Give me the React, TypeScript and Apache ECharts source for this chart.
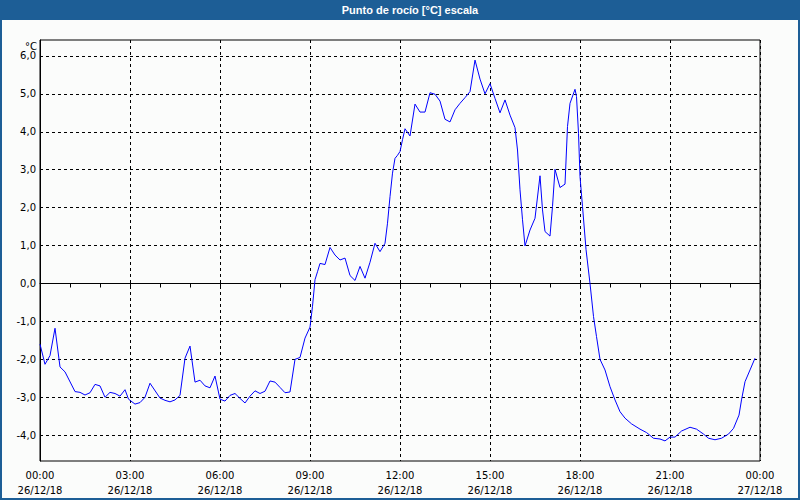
import React, { useEffect, useRef } from "react";
import * as echarts from "echarts";

// minutes after 26/12/18 00:00
const minutes = [
  0, 10, 20, 30, 40, 50, 70, 80, 90, 100, 110, 120, 130, 140, 150, 160, 170, 177, 190, 200,
  210, 220, 240, 250, 260, 270, 280, 290, 300, 310, 320, 330, 340, 350, 360, 370, 380, 390, 400, 410,
  420, 430, 440, 450, 460, 470, 480, 490, 500, 510, 520, 530, 540, 545, 550, 555, 560, 570, 580, 590,
  600, 610, 620, 630, 640, 650, 660, 670, 680, 690, 695, 700, 705, 710, 715, 720, 725, 730, 740, 750,
  760, 770, 780, 790, 800, 810, 820, 830, 840, 850, 860, 870, 880, 890, 900, 910, 920, 930, 940, 950,
  955, 960, 965, 970, 980, 990, 1000, 1005, 1010, 1020, 1025, 1030, 1040, 1050, 1055, 1060, 1070, 1073, 1077, 1080,
  1085, 1092, 1100, 1107, 1113, 1120, 1130, 1140, 1150, 1160, 1170, 1183, 1200, 1213, 1227, 1240, 1250, 1260, 1270, 1283,
  1300, 1313, 1327, 1337, 1350, 1363, 1377, 1387, 1398, 1403, 1410, 1420, 1430,
];

const dewPoint = [
  -1.6, -2.13, -1.9, -1.18, -2.2, -2.33, -2.85, -2.87, -2.94, -2.88, -2.66, -2.7, -3.0, -2.87, -2.9, -2.97, -2.8, -3.05, -3.18, -3.14,
  -3.0, -2.63, -3.02, -3.08, -3.12, -3.07, -2.95, -1.97, -1.65, -2.6, -2.55, -2.7, -2.75, -2.44, -3.05, -3.1, -2.95, -2.9, -3.03, -3.15,
  -2.97, -2.83, -2.9, -2.84, -2.57, -2.6, -2.74, -2.88, -2.86, -2.0, -1.95, -1.44, -1.15, -0.6, 0.1, 0.31, 0.53, 0.5, 0.95, 0.75,
  0.62, 0.67, 0.21, 0.08, 0.45, 0.14, 0.56, 1.06, 0.84, 1.06, 1.59, 2.29, 2.91, 3.3, 3.38, 3.48, 3.79, 4.08, 3.89, 4.73,
  4.52, 4.52, 5.03, 4.99, 4.81, 4.33, 4.26, 4.58, 4.75, 4.9, 5.06, 5.89, 5.39, 5.0, 5.27, 4.88, 4.5, 4.84, 4.44, 4.11,
  3.52, 2.47, 1.68, 0.99, 1.41, 1.72, 2.84, 1.94, 1.37, 1.25, 2.03, 3.01, 2.53, 2.62, 4.14, 4.75, 5.12, 4.93, 3.96, 2.82,
  2.03, 0.9, 0.0, -0.87, -1.4, -2.0, -2.28, -2.72, -3.07, -3.38, -3.55, -3.7, -3.84, -3.93, -4.08, -4.1, -4.15, -4.05, -4.05, -3.89,
  -3.79, -3.84, -3.97, -4.08, -4.12, -4.08, -3.97, -3.82, -3.47, -3.07, -2.59, -2.28, -1.97,
];

const timeLabels = ["00:00", "03:00", "06:00", "09:00", "12:00", "15:00", "18:00", "21:00", "00:00"];
const dateLabels = ["26/12/18", "26/12/18", "26/12/18", "26/12/18", "26/12/18", "26/12/18", "26/12/18", "26/12/18", "27/12/18"];
const yTicks = [-4, -3, -2, -1, 0, 1, 2, 3, 4, 5, 6];

const TITLE = "Punto de rocío [°C] escala";
const UNIT = "°C";

export default function App() {
  const ref = useRef<HTMLDivElement>(null);

  useEffect(() => {
    document.body.style.margin = "0";
    if (!ref.current) return;
    const chart = echarts.init(ref.current, undefined, { renderer: "svg" });
    const font = "DejaVu Sans";
    const blue = "#1d5e96";
    chart.setOption({
      animation: false,
      backgroundColor: "#fbfcfb",
      grid: {
        left: 40,
        right: 40,
        top: 40,
        bottom: 39,
        show: true,
        borderColor: "#000",
        borderWidth: 1,
        backgroundColor: "transparent",
      },
      graphic: [
        { type: "rect", shape: { x: 0, y: 0, width: 800, height: 20 }, style: { fill: blue }, z: 10 },
        {
          type: "rect",
          shape: { x: 1, y: 1, width: 798, height: 498 },
          style: { fill: "none", stroke: blue, lineWidth: 2 },
          z: 10,
        },
        {
          type: "text",
          x: 410,
          y: 10,
          z: 11,
          style: {
            text: TITLE,
            fill: "#fff",
            font: "bold 11px 'Liberation Sans'",
            textAlign: "center",
            textVerticalAlign: "middle",
          },
        },
        {
          type: "text",
          x: 37,
          y: 46,
          z: 11,
          style: {
            text: UNIT,
            fill: "#000",
            font: `10px '${font}'`,
            textAlign: "right",
            textVerticalAlign: "middle",
          },
        },
      ],
      xAxis: {
        type: "value",
        min: 0,
        max: 1440,
        interval: 180,
        axisLine: { show: true, lineStyle: { color: "#000", width: 1 } },
        axisTick: { show: true, length: 4, lineStyle: { color: "#000" } },
        minorTick: { show: true, splitNumber: 3, length: 4, lineStyle: { color: "#000" } },
        splitLine: { show: true, lineStyle: { color: "#000", type: [3, 3], width: 1 } },
        axisLabel: {
          color: "#000",
          fontFamily: font,
          fontSize: 10,
          lineHeight: 15,
          margin: 7,
          showMinLabel: true,
          showMaxLabel: true,
          formatter: (v: number) => {
            const i = Math.round(v / 180);
            return `${timeLabels[i]}\n${dateLabels[i]}`;
          },
        },
      },
      yAxis: {
        type: "value",
        min: -4.68,
        max: 6.42,
        axisLine: { show: true, lineStyle: { color: "#000", width: 1 } },
        axisTick: { show: false, customValues: yTicks },
        splitLine: { show: false },
        axisLabel: {
          customValues: yTicks,
          color: "#000",
          fontFamily: font,
          fontSize: 10,
          margin: 4,
          formatter: (v: number) => v.toFixed(1).replace(".", ","),
        },
      },
      series: [
        {
          type: "line",
          data: minutes.map((m, i) => [m, dewPoint[i]]),
          showSymbol: false,
          symbol: "none",
          lineStyle: { color: "#0000ff", width: 1 },
          z: 5,
          markLine: {
            silent: true,
            symbol: "none",
            label: { show: false },
            lineStyle: { color: "#000", type: [3, 3], width: 1 },
            data: yTicks.map((t) => ({ yAxis: t })),
            z: 1,
          },
        },
      ],
    });
    return () => chart.dispose();
  }, []);

  return <div ref={ref} style={{ width: 800, height: 500 }} />;
}
